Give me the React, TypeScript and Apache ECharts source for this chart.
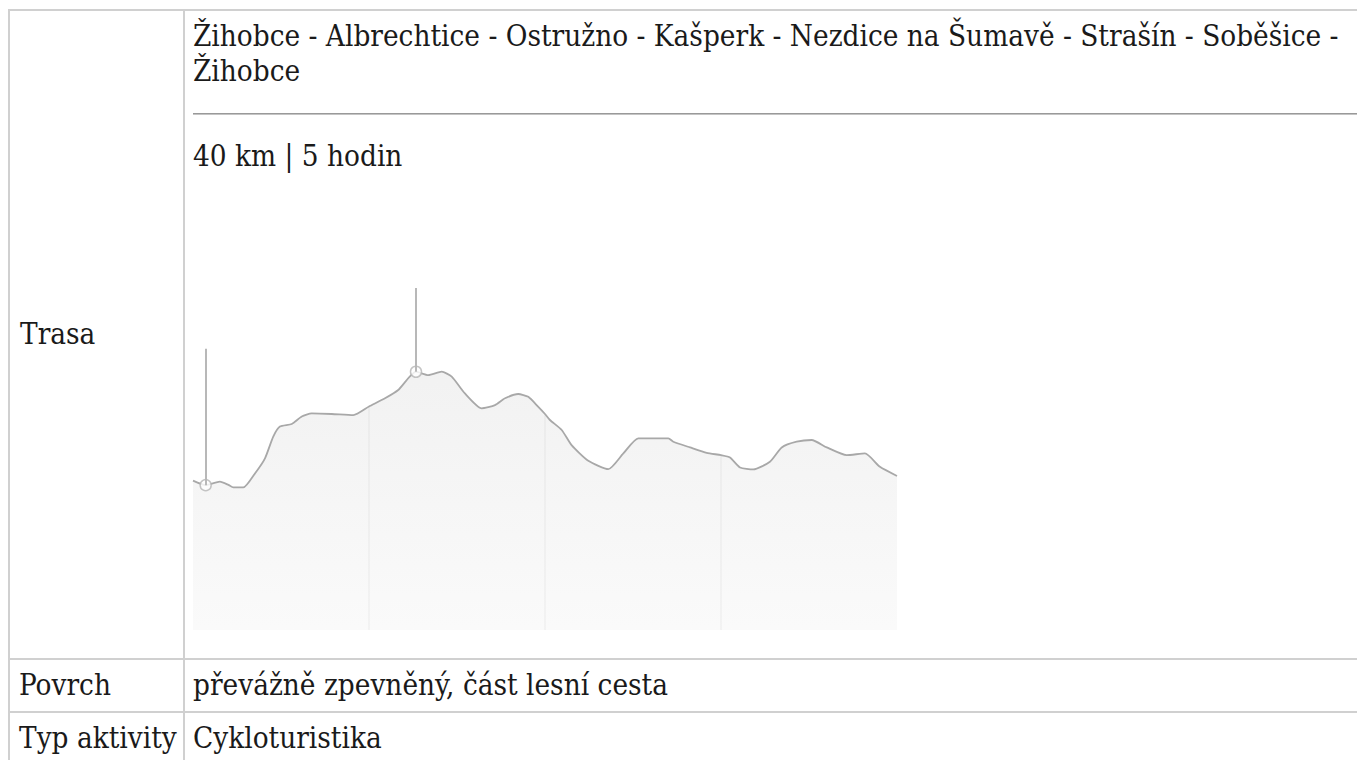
import React, { useEffect, useRef } from "react";
import * as echarts from "echarts";

// Elevation profile: distance (km) and elevation (m)
const distanceKm = [
  0, 0.72, 1.53, 2.01, 2.29, 2.86, 3.52, 4.09, 4.56, 4.94, 5.61, 6.18, 6.74, 7.88, 9.11, 10.0,
  10.91, 11.66, 12.67, 13.37, 14.13, 14.7, 15.45, 16.4, 17.16, 17.73, 18.48, 19.05, 19.62, 20.0,
  20.28, 20.95, 21.51, 22.46, 23.6, 24.45, 25.3, 27.01, 27.29, 28.24, 29.19, 30.0, 30.51, 31.08,
  31.84, 32.78, 33.45, 34.3, 35.15, 36.01, 37.14, 38.18, 39.03, 40.0,
];
const elevationM = [
  523, 507, 519, 508, 499, 499, 548, 601, 677, 712, 721, 747, 758, 756, 752, 782,
  811, 840, 904, 892, 904, 887, 828, 776, 787, 811, 826, 816, 781, 756,
  735, 700, 647, 592, 563, 618, 671, 671, 659, 639, 620, 612, 604, 569,
  562, 589, 639, 659, 665, 639, 612, 618, 571, 539,
];
// Highlighted waypoints (index into the profile) and the top of their pins
const pinIndex = [1, 18];
const pinTopM = [984, 1197];
// Distance grid lines (km)
const gridKm = [10, 20, 30];

const titleLine1 = "Žihobce - Albrechtice - Ostružno - Kašperk - Nezdice na Šumavě - Strašín - Soběšice -";
const titleLine2 = "Žihobce";
const summary = "40 km | 5 hodin";
const rowLabels = ["Trasa", "Povrch", "Typ aktivity"];
const rowValues = ["převážně zpevněný, část lesní cesta", "Cykloturistika"];

const FS = 29.4;
const LH = 35;
const FONT = '"DejaVu Serif", serif';
const baseOffset = (LH - 1.164 * FS) / 2 + 0.928 * FS;

function Txt({ x, baseline, children }: { x: number; baseline: number; children: React.ReactNode }) {
  return (
    <div
      style={{
        position: "absolute",
        left: x,
        top: baseline - baseOffset,
        fontSize: FS,
        lineHeight: LH + "px",
        fontFamily: FONT,
        fontStretch: "condensed",
        whiteSpace: "nowrap",
        color: "#1a1a1a",
      }}
    >
      {children}
    </div>
  );
}

function Line({ x, y, w, h, c }: { x: number; y: number; w: number; h: number; c: string }) {
  return <div style={{ position: "absolute", left: x, top: y, width: w, height: h, background: c }} />;
}

export default function App() {
  const ref = useRef<HTMLDivElement>(null);
  useEffect(() => {
    if (!ref.current) return;
    const chart = echarts.init(ref.current, undefined, { renderer: "svg" });
    const profile = distanceKm.map((d, i) => [d, elevationM[i]]);
    const gridLineData = gridKm.map((k) => {
      const i = distanceKm.indexOf(k);
      return [{ coord: [k, 0] }, { coord: [k, elevationM[i]] }];
    });
    const pinLineData = pinIndex.map((idx, j) => [
      { coord: [distanceKm[idx], elevationM[idx]] },
      { coord: [distanceKm[idx], pinTopM[j]] },
    ]);
    chart.setOption({
      animation: false,
      grid: { left: 8, right: 8, top: 10, bottom: 10 },
      xAxis: {
        type: "value",
        min: 0,
        max: 40,
        interval: 10,
        axisLine: { show: false },
        axisTick: { show: false },
        axisLabel: { show: false },
        splitLine: { show: false },
      },
      yAxis: {
        type: "value",
        min: 0,
        max: 1260,
        axisLine: { show: false },
        axisTick: { show: false },
        axisLabel: { show: false },
        splitLine: { show: false },
      },
      series: [
        {
          type: "line",
          data: profile,
          smooth: 0.2,
          symbol: "none",
          lineStyle: { color: "#a8a8a8", width: 1.8 },
          areaStyle: {
            color: new echarts.graphic.LinearGradient(0, 0, 0, 1, [
              { offset: 0, color: "#ececec" },
              { offset: 1, color: "#f8f8f8" },
            ]),
          },
          markLine: {
            silent: true,
            symbol: ["none", "none"],
            label: { show: false },
            lineStyle: { color: "#e6e6e6", width: 2, type: "solid" },
            data: gridLineData,
            z: 1,
          },
          z: 2,
        },
        {
          type: "line",
          data: [],
          markLine: {
            silent: true,
            symbol: ["none", "none"],
            label: { show: false },
            lineStyle: { color: "#b8b8b8", width: 2, type: "solid" },
            data: pinLineData,
          },
          z: 3,
        },
        {
          type: "scatter",
          data: pinIndex.map((i) => [distanceKm[i], elevationM[i]]),
          symbol: "circle",
          symbolSize: 11,
          itemStyle: { color: "#ffffff", borderColor: "#b5b5b5", borderWidth: 1.5 },
          z: 4,
        },
      ],
    });
    return () => chart.dispose();
  }, []);

  const border = "#d0d0d0";
  return (
    <div
      style={{
        position: "fixed",
        left: 0,
        top: 0,
        width: 1357,
        height: 760,
        overflow: "hidden",
        background: "#fff",
      }}
    >
      <Line x={8} y={9} w={1349} h={2} c={border} />
      <Line x={8} y={9} w={2} h={760} c={border} />
      <Line x={183} y={9} w={2} h={760} c={border} />
      <Line x={8} y={658} w={1349} h={2} c={border} />
      <Line x={8} y={711} w={1349} h={2} c={border} />
      <Line x={193} y={113} w={1164} h={1} c="#999" />
      <Line x={193} y={114} w={1164} h={1} c="#c4c4c4" />

      <Txt x={193} baseline={46.7}>{titleLine1}</Txt>
      <Txt x={193} baseline={81.7}>{titleLine2}</Txt>
      <Txt x={193} baseline={166.7}>{summary}</Txt>

      <Txt x={20} baseline={345}>{rowLabels[0]}</Txt>
      <Txt x={19} baseline={696}>{rowLabels[1]}</Txt>
      <Txt x={19} baseline={748.3}>{rowLabels[2]}</Txt>
      <Txt x={193} baseline={696}>{rowValues[0]}</Txt>
      <Txt x={193} baseline={748.3}>{rowValues[1]}</Txt>

      <div ref={ref} style={{ position: "absolute", left: 185, top: 260, width: 720, height: 380 }} />
    </div>
  );
}
